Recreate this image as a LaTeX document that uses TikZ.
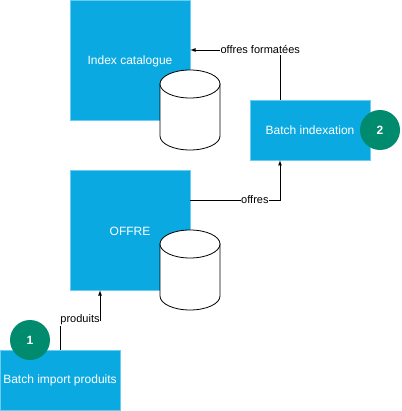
\documentclass[tikz,border=0pt]{standalone}
\usepackage{fontspec}
\setmainfont{Liberation Sans}
\definecolor{boxblue}{HTML}{0BA9E2}
\definecolor{boxedge}{HTML}{6CCDF2}
\definecolor{stepgreen}{HTML}{008A6E}
\begin{document}
\begin{tikzpicture}[x=1pt,y=-1pt,
    bluebox/.style={rectangle,fill=boxblue,draw=boxedge,line width=0.6pt,text=white,font=\fontsize{12}{14}\selectfont,inner sep=0pt},
    stepnum/.style={circle,fill=stepgreen,text=white,font=\fontsize{12}{14}\selectfont\bfseries,minimum size=40pt,inner sep=0pt},
    flowlabel/.style={fill=white,font=\fontsize{11}{13}\selectfont,inner sep=0.5pt},
    cyl/.style={draw=black,fill=white,line width=0.8pt}]
        \useasboundingbox (0,0) rectangle (401,411);
        \node (IC) at (130,60) [bluebox,minimum width=120pt,minimum height=120pt] {};
        \node at (130,61) [text=white,font=\fontsize{12}{14}\selectfont] {Index catalogue};
        \node (BI) at (310,130) [bluebox,minimum width=120pt,minimum height=60pt] {Batch indexation};
        \node (N2) at (380,130) [stepnum] {2};
        \node (OF) at (130,230) [bluebox,minimum width=120pt,minimum height=120pt] {};
        \node at (130,231) [text=white,font=\fontsize{12}{14}\selectfont] {OFFRE};
        \node (BP) at (60,380) [bluebox,minimum width=120pt,minimum height=60pt] {Batch import produits};
        \node (N1) at (30,340) [stepnum] {1};
        % bases
        \foreach \y in {84,244} {
            \draw [cyl] (160,\y) -- (160,\y+52) arc [start angle=180,end angle=360,x radius=30pt,y radius=14pt] -- (220,\y) -- cycle;
            \draw [cyl] (190,\y) ellipse [x radius=30pt,y radius=14pt];
        }
        \coordinate (A1) at (280,50);
        \coordinate (A2) at (280,200);
        \coordinate (A3) at (60,320);
        \coordinate (A4) at (100,320);
        \draw [-latex,line width=0.8pt] (BI.north -| A1) -- (A1) -- (IC.east |- A1) node [pos=0.22,flowlabel] {offres formatées};
        \draw [-latex,line width=0.8pt] (OF.east |- A2) -- (A2) node [pos=0.72,flowlabel] {offres} -- (BI.south -| A2);
        \draw [-latex,line width=0.8pt] (BP.north -| A3) -- (A3) -- (A4) node [midway,flowlabel] {produits} -- (OF.south -| A4);
\end{tikzpicture}
\end{document}
